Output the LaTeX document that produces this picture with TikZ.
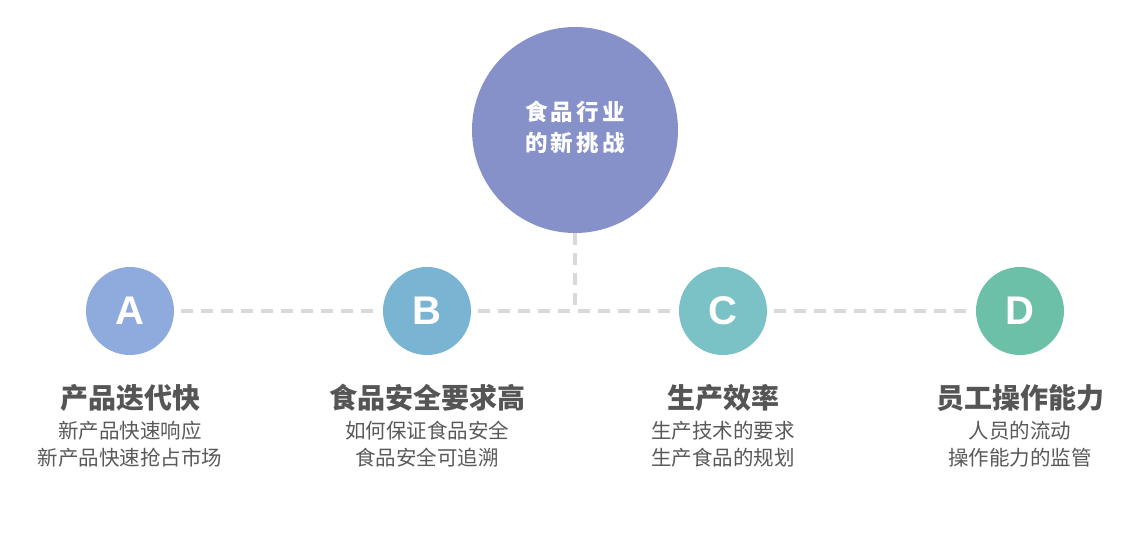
\documentclass[tikz,border=0pt]{standalone}
\usepackage{fontspec}
\setmainfont{Liberation Sans}
\newfontfamily\cjk{Noto Sans CJK SC}
\newfontfamily\cjkwide{Noto Sans CJK SC}[LetterSpace=14]
\usetikzlibrary{positioning}

\definecolor{hubcol}{HTML}{8690C9}
\definecolor{acol}{HTML}{8FAADC}
\definecolor{bcol}{HTML}{79B5D3}
\definecolor{ccol}{HTML}{7BC2C6}
\definecolor{dcol}{HTML}{6CC0A8}
\definecolor{linkcol}{HTML}{D9D9D9}
\definecolor{titlecol}{HTML}{555555}
\definecolor{desccol}{HTML}{595959}

\begin{document}
\begin{tikzpicture}[
    x=1pt, y=-1pt,
    hub/.style={circle, fill=hubcol, minimum size=206pt, inner sep=0pt,
        text=white, align=center, font=\cjkwide\bfseries\fontsize{22.5}{31}\selectfont},
    letter/.style={circle, minimum size=88pt, inner sep=0pt, text=white,
        font=\bfseries\fontsize{40}{40}\selectfont},
    title/.style={inner sep=0pt, text=titlecol, font=\cjk\bfseries\fontsize{28}{28}\selectfont},
    desc/.style={inner sep=0pt, text=desccol, align=center,
        font=\cjk\fontsize{20.5}{27}\selectfont},
    link/.style={draw=linkcol, line width=3.5pt, dash pattern=on 12pt off 8pt}
]
\useasboundingbox (0,0) rectangle (1128,552);

\node[hub] (hub) at (575,130) {};
\node[hub, fill=none, minimum size=0pt] (hubtext) at (575,127) {食品行业\\的新挑战};

\node[letter, fill=acol] (ca) at (130,311) {A};
\node[letter, fill=bcol] (cb) at (427,311) {B};
\node[letter, fill=ccol] (cc) at (723,311) {C};
\node[letter, fill=dcol] (cd) at (1020,311) {D};

\node[title, below=29pt of ca] (ta) {产品迭代快};
\node[title, below=29pt of cb] (tb) {食品安全要求高};
\node[title, below=29pt of cc] (tc) {生产效率};
\node[title, below=29pt of cd] (td) {员工操作能力};

\node[desc, below=9pt of ta] (da) {新产品快速响应\\新产品快速抢占市场};
\node[desc, below=9pt of tb] (db) {如何保证食品安全\\食品安全可追溯};
\node[desc, below=9pt of tc] (dc) {生产技术的要求\\生产食品的规划};
\node[desc, below=9pt of td] (dd) {人员的流动\\操作能力的监管};

% dashed connectors
\draw[link, shorten <=7pt, shorten >=7pt] (ca.east) -- (cb.west);
\draw[link, shorten <=7pt, shorten >=7pt] (cb.east) -- (cc.west);
\draw[link, shorten <=7pt, shorten >=7pt] (cc.east) -- (cd.west);
\draw[link] (hub.south) -- (hub.south |- cb.east);

\end{tikzpicture}
\end{document}
